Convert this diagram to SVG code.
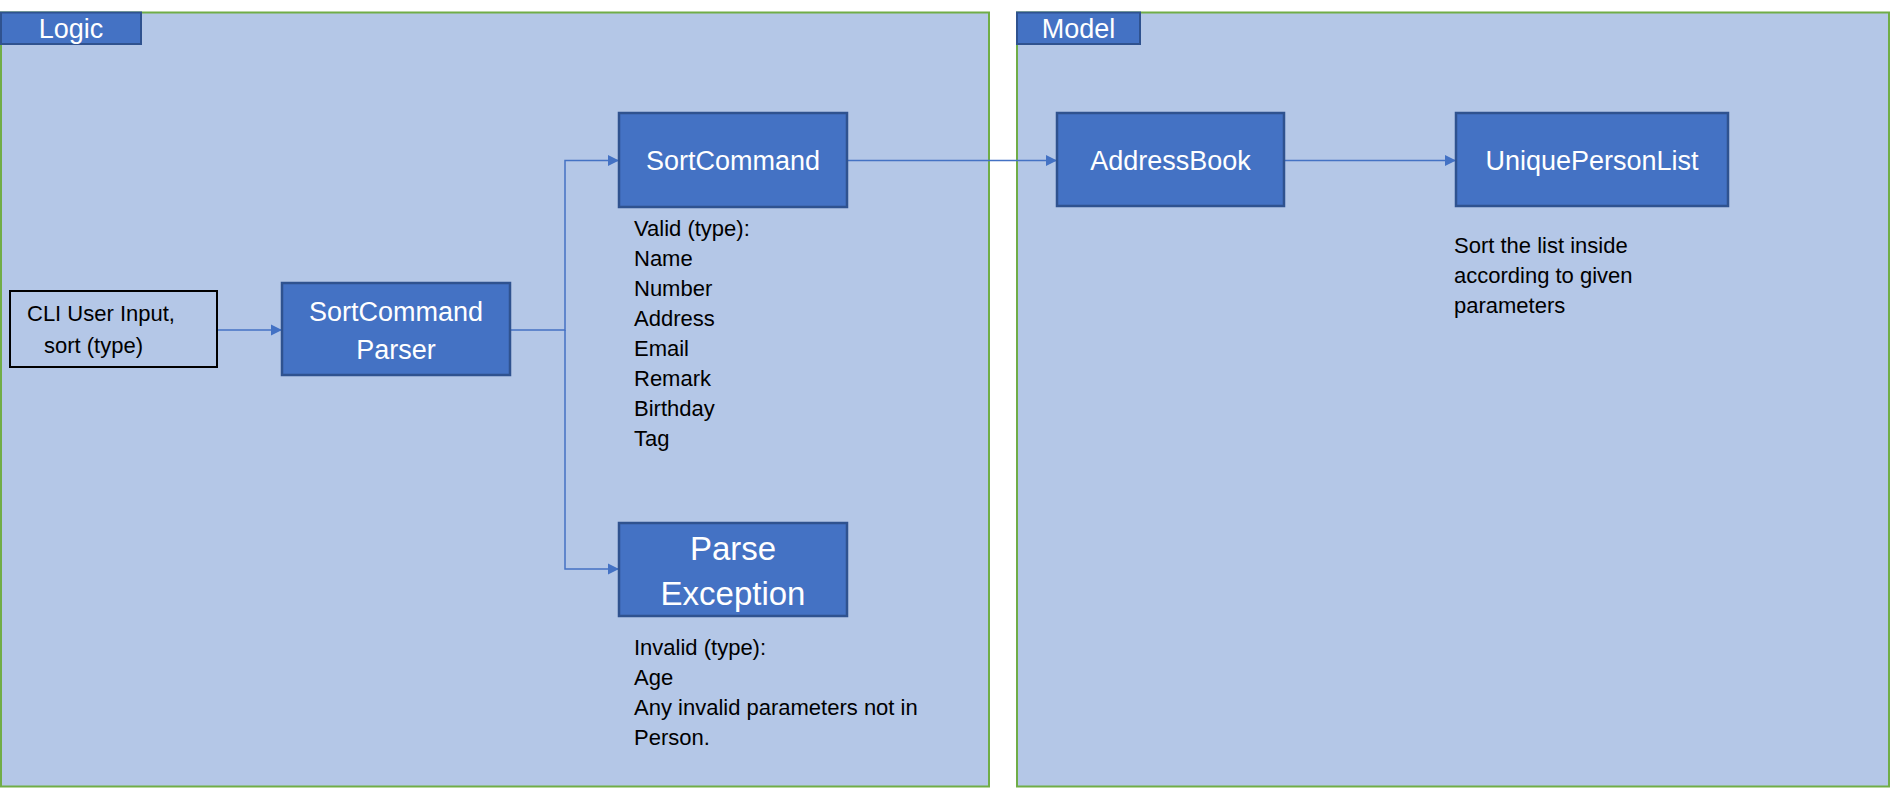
<svg xmlns="http://www.w3.org/2000/svg" width="1891" height="788" viewBox="0 0 1891 788">
<style>
.panel{fill:#B4C7E7;stroke:#70AD47;stroke-width:2}
.tab{fill:#4472C4;stroke:#2F528F;stroke-width:2}
.node{fill:#4472C4;stroke:#2F528F;stroke-width:2.5}
.plain{fill:none;stroke:#000;stroke-width:2}
.wt{font-family:"Liberation Sans",Arial,sans-serif;fill:#fff;font-size:27px;text-anchor:middle}
.bt{font-family:"Liberation Sans",Arial,sans-serif;fill:#000;font-size:22px}
.conn{fill:none;stroke:#4472C4;stroke-width:1.5}
</style>
<defs>
<marker id="arr" markerUnits="userSpaceOnUse" markerWidth="14" markerHeight="14" refX="12" refY="7" orient="auto">
<path d="M1,1.5 L12,7 L1,12.5 Z" fill="#4472C4"/>
</marker>
</defs>
<rect width="1891" height="788" fill="#fff"/>
<g id="logic-panel">
<rect class="panel" x="1" y="12.5" width="988" height="774"/>
<rect class="tab" x="1" y="12.5" width="140" height="31.5"/>
<text class="wt" x="71" y="38">Logic</text>
</g>
<g id="model-panel">
<rect class="panel" x="1017" y="12.5" width="872" height="774"/>
<rect class="tab" x="1017" y="12.5" width="123" height="31.5"/>
<text class="wt" x="1078.5" y="38">Model</text>
</g>
<g id="connectors">
<line class="conn" x1="217" y1="330" x2="282" y2="330" marker-end="url(#arr)"/>
<polyline class="conn" points="510,330 565,330 565,160.5 619,160.5" marker-end="url(#arr)"/>
<polyline class="conn" points="565,330 565,569 619,569" marker-end="url(#arr)"/>
<line class="conn" x1="847" y1="160.5" x2="1057" y2="160.5" marker-end="url(#arr)"/>
<line class="conn" x1="1284" y1="160.5" x2="1456" y2="160.5" marker-end="url(#arr)"/>
</g>
<g id="cli-input">
<rect class="plain" x="10" y="291" width="207" height="76" fill="none"/>
<text class="bt" x="27" y="321">CLI User Input,</text>
<text class="bt" x="44" y="353">sort (type)</text>
</g>
<g id="sortcommandparser">
<rect class="node" x="282" y="283" width="228" height="92"/>
<text class="wt" x="396" y="321">SortCommand</text>
<text class="wt" x="396" y="359">Parser</text>
</g>
<g id="sortcommand">
<rect class="node" x="619" y="113" width="228" height="94"/>
<text class="wt" x="733" y="170">SortCommand</text>
</g>
<g id="valid-note">
<text class="bt" x="634" y="236">Valid (type):</text>
<text class="bt" x="634" y="266">Name</text>
<text class="bt" x="634" y="296">Number</text>
<text class="bt" x="634" y="326">Address</text>
<text class="bt" x="634" y="356">Email</text>
<text class="bt" x="634" y="386">Remark</text>
<text class="bt" x="634" y="416">Birthday</text>
<text class="bt" x="634" y="446">Tag</text>
</g>
<g id="parseexception">
<rect class="node" x="619" y="523" width="228" height="93"/>
<text class="wt" x="733" y="560" style="font-size:33px">Parse</text>
<text class="wt" x="733" y="605" style="font-size:33px">Exception</text>
</g>
<g id="invalid-note">
<text class="bt" x="634" y="655">Invalid (type):</text>
<text class="bt" x="634" y="685">Age</text>
<text class="bt" x="634" y="715">Any invalid parameters not in</text>
<text class="bt" x="634" y="745">Person.</text>
</g>
<g id="addressbook">
<rect class="node" x="1057" y="113" width="227" height="93"/>
<text class="wt" x="1170.5" y="170">AddressBook</text>
</g>
<g id="uniquepersonlist">
<rect class="node" x="1456" y="113" width="272" height="93"/>
<text class="wt" x="1592" y="170">UniquePersonList</text>
</g>
<g id="model-note">
<text class="bt" x="1454" y="253">Sort the list inside</text>
<text class="bt" x="1454" y="283">according to given</text>
<text class="bt" x="1454" y="313">parameters</text>
</g>
</svg>
